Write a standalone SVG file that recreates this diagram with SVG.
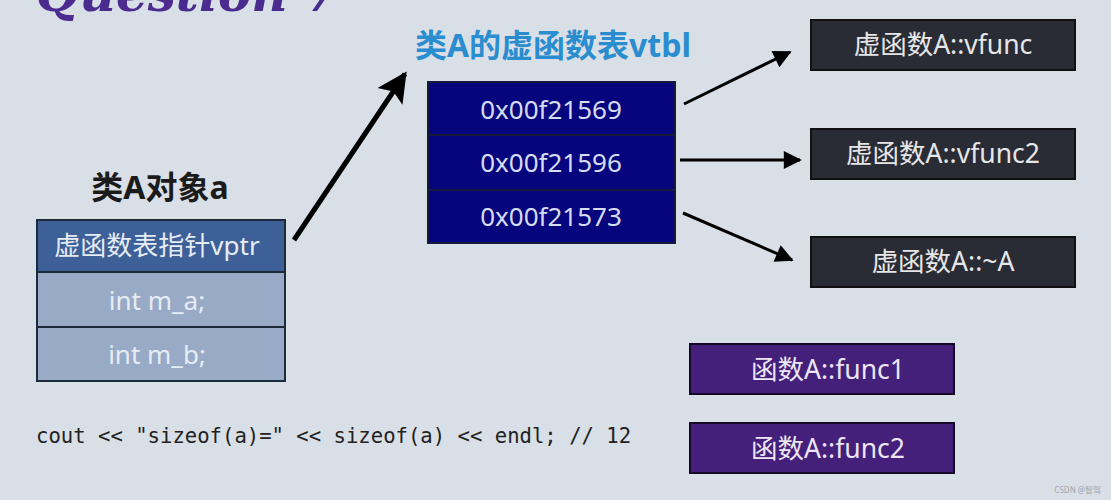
<svg xmlns="http://www.w3.org/2000/svg" width="1111" height="500" viewBox="0 0 1111 500">
<defs>
<marker id="ah" viewBox="0 0 10 10" refX="9" refY="5" markerWidth="7" markerHeight="6" markerUnits="strokeWidth" orient="auto"><path d="M0,0 L10,5 L0,10 Z" fill="#000"/></marker>
<marker id="ahb" viewBox="0 0 10 10" refX="9" refY="5" markerWidth="6.5" markerHeight="6" markerUnits="strokeWidth" orient="auto"><path d="M0,0 L10,5 L0,10 L2,5 Z" fill="#000"/></marker>
<style>
.cjk{font-family:"Noto Sans","Noto Sans CJK SC",sans-serif;}
.obj{stroke:#1d2a3a;stroke-width:2;}
.ot{fill:#e6ecf4;font-size:26px;text-anchor:middle;}
.vt{fill:#06057e;stroke:#161a3a;stroke-width:2;}
.vtt{fill:#d6dcf2;font-size:26px;text-anchor:middle;}
.fn{fill:#2a2c35;stroke:#111;stroke-width:2;}
.fnt{fill:#e6e6e8;font-size:26.5px;text-anchor:middle;}
.pf{fill:#45207b;stroke:#140a28;stroke-width:2;}
.pft{fill:#ece6f4;font-size:26.5px;text-anchor:middle;}
.ln{stroke:#000;stroke-width:3;fill:none;marker-end:url(#ah);}
</style>
</defs>
<rect width="1111" height="500" fill="#d9dfe6"/>
<text x="36" y="11" font-family="DejaVu Serif,serif" font-style="italic" font-weight="bold" font-size="50" fill="#4b2b8e">Question 7</text>

<g id="objA">
<text x="160" y="199" class="cjk" font-size="32" font-weight="bold" text-anchor="middle" fill="#1b1b1b">类A对象a</text>
<rect x="37" y="220" width="248" height="52" fill="#3d6098" class="obj"/>
<rect x="37" y="272" width="248" height="55" fill="#98aac6" class="obj"/>
<rect x="37" y="327" width="248" height="54" fill="#98aac6" class="obj"/>
<text x="157" y="255" class="cjk ot">虚函数表指针vptr</text>
<text x="157" y="310" class="cjk ot">int m_a;</text>
<text x="157" y="364" class="cjk ot">int m_b;</text>
</g>

<g id="vtbl">
<text x="553" y="57" class="cjk" font-size="32" font-weight="bold" text-anchor="middle" fill="#2a8dcf">类A的虚函数表vtbl</text>
<rect x="428" y="82" width="247" height="53" class="vt"/>
<rect x="428" y="135" width="247" height="55" class="vt"/>
<rect x="428" y="190" width="247" height="53" class="vt"/>
<text x="551" y="119" class="cjk vtt">0x00f21569</text>
<text x="551" y="172" class="cjk vtt">0x00f21596</text>
<text x="551" y="226" class="cjk vtt">0x00f21573</text>
</g>

<g id="vfunc">
<rect x="811" y="20" width="264" height="50" class="fn"/>
<text x="943" y="54" class="cjk fnt">虚函数A::vfunc</text>
</g>
<g id="vfunc2">
<rect x="811" y="129" width="264" height="50" class="fn"/>
<text x="943" y="163" class="cjk fnt">虚函数A::vfunc2</text>
</g>
<g id="dtor">
<rect x="811" y="237" width="264" height="50" class="fn"/>
<text x="943" y="271" class="cjk fnt">虚函数A::~A</text>
</g>
<g id="func1">
<rect x="690" y="344" width="264" height="50" class="pf"/>
<text x="828" y="379" class="cjk pft">函数A::func1</text>
</g>
<g id="func2">
<rect x="690" y="423" width="264" height="50" class="pf"/>
<text x="828" y="458" class="cjk pft">函数A::func2</text>
</g>

<g id="connectors">
<line x1="294" y1="240" x2="405" y2="74" stroke="#000" stroke-width="5" marker-end="url(#ahb)"/>
<line x1="684" y1="104" x2="790" y2="52" class="ln"/>
<line x1="680" y1="160" x2="800" y2="160" class="ln"/>
<line x1="683" y1="213" x2="792" y2="260" class="ln"/>
</g>

<text x="36" y="443" font-family="DejaVu Sans Mono,monospace" font-size="20.6" fill="#222">cout &lt;&lt; "sizeof(a)=" &lt;&lt; sizeof(a) &lt;&lt; endl; // 12</text>
<text x="1101" y="493" class="cjk" font-size="8" text-anchor="end" fill="#a0a6ae">CSDN @智驾</text>
</svg>
